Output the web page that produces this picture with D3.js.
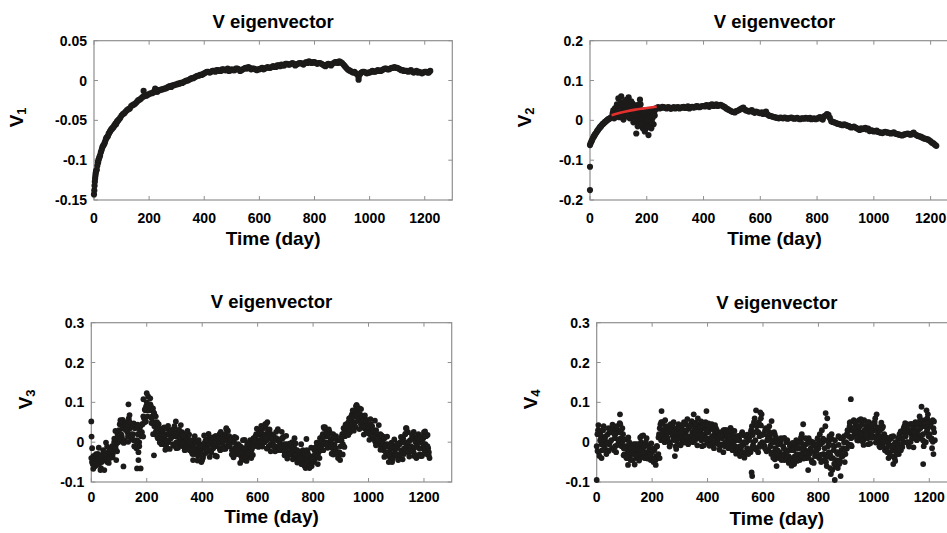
<!DOCTYPE html>
<html><head><meta charset="utf-8">
<script src="https://cdn.jsdelivr.net/npm/d3@7"></script>
<style>
body{margin:0;background:#fff}
svg{display:block}
text{font-family:"Liberation Sans",Arial,sans-serif;font-weight:bold;fill:#000}
</style>
</head><body>
<svg id="chart" width="947" height="533"></svg>
<script>
// ---------------- DATA ----------------
const titleText = "V eigenvector";
const xLabelText = "Time (day)";
const xTicks = [0, 200, 400, 600, 800, 1000, 1200];
const yTicks1 = [-0.15, -0.1, -0.05, 0, 0.05];
const yTickLabels1 = ["-0.15", "-0.1", "-0.05", "0", "0.05"];
const yTicks2 = [-0.2, -0.1, 0, 0.1, 0.2];
const yTickLabels2 = ["-0.2", "-0.1", "0", "0.1", "0.2"];
const yTicks34 = [-0.1, 0, 0.1, 0.2, 0.3];
const yTickLabels34 = ["-0.1", "0", "0.1", "0.2", "0.3"];

// sample days
const days10 = d3.range(0, 1221, 10);     // 0,10,...,1220
const days10b = d3.range(5, 1220, 10);    // 5,15,...,1215
const days10c = d3.range(3, 1220, 10);    // 3,13,...,1213
const days10d = d3.range(7, 1220, 10);    // 7,17,...,1217
const days5 = d3.range(0, 1221, 5);       // 0,5,...,1220
const days5b = d3.range(2.5, 1220, 5);    // 2.5,...,1217.5

// V1
const v1Vals = [
 -0.143,-0.112,-0.096,-0.084,-0.077,-0.070,-0.063,-0.059,-0.055,-0.049,
 -0.044,-0.041,-0.037,-0.035,-0.031,-0.029,-0.025,-0.023,-0.020,-0.019,
 -0.017,-0.016,-0.013,-0.014,-0.012,-0.011,-0.010,-0.008,-0.008,-0.006,
 -0.005,-0.004,-0.003,-0.001,0.000,0.002,0.003,0.005,0.006,0.007,
 0.009,0.011,0.010,0.012,0.011,0.013,0.012,0.014,0.013,0.012,
 0.014,0.013,0.015,0.012,0.014,0.016,0.017,0.014,0.015,0.013,
 0.014,0.016,0.015,0.017,0.016,0.018,0.017,0.019,0.020,0.019,
 0.021,0.020,0.022,0.019,0.021,0.022,0.020,0.023,0.024,0.022,
 0.023,0.021,0.022,0.020,0.018,0.021,0.019,0.022,0.023,0.024,
 0.022,0.018,0.014,0.012,0.010,0.009,0.004,0.010,0.011,0.009,
 0.010,0.012,0.011,0.013,0.012,0.014,0.015,0.014,0.016,0.017,
 0.016,0.014,0.013,0.012,0.011,0.013,0.010,0.012,0.011,0.009,
 0.011,0.010,0.012];
const v1ValsB = [
 -0.120,-0.103,-0.090,-0.081,-0.072,-0.066,-0.061,-0.056,-0.051,-0.047,
 -0.042,-0.039,-0.036,-0.032,-0.030,-0.027,-0.024,-0.021,-0.019,-0.018,
 -0.016,-0.015,-0.014,-0.012,-0.011,-0.010,-0.009,-0.007,-0.006,-0.005,
 -0.004,-0.003,-0.002,0.000,0.001,0.003,0.004,0.006,0.007,0.008,
 0.010,0.011,0.011,0.012,0.013,0.012,0.014,0.013,0.015,0.013,
 0.013,0.015,0.014,0.013,0.015,0.015,0.016,0.015,0.014,0.014,
 0.015,0.014,0.016,0.016,0.017,0.017,0.019,0.018,0.019,0.021,
 0.020,0.021,0.021,0.020,0.022,0.021,0.022,0.022,0.023,0.023,
 0.022,0.022,0.021,0.019,0.020,0.020,0.021,0.023,0.022,0.023,
 0.020,0.016,0.013,0.011,0.011,0.008,0.008,0.011,0.010,0.010,
 0.011,0.011,0.012,0.012,0.013,0.015,0.014,0.015,0.016,0.016,
 0.015,0.013,0.012,0.012,0.012,0.011,0.011,0.010,0.010,0.010,
 0.011,0.010];
const v1ExtraDays = [1,2,3,4,6,7,8,12,14,16,18,22,28,33,38,43,48,53,58,63,68,73,78,83,88,180,222,960];
const v1ExtraVals = [-0.138,-0.132,-0.127,-0.123,-0.117,-0.115,-0.113,-0.107,-0.103,-0.100,-0.098,-0.094,-0.087,-0.082,-0.079,-0.074,-0.071,-0.067,-0.064,-0.061,-0.059,-0.057,-0.054,-0.052,-0.050,-0.013,-0.010,0.001];

// V2
const v2Vals = [
 -0.062,-0.045,-0.033,-0.022,-0.013,-0.006,0.000,0.005,0.010,0.020,
 0.022,0.030,0.018,0.032,0.026,0.012,0.004,-0.006,0.008,-0.002,
 0.005,-0.010,0.015,0.028,0.033,0.031,0.033,0.030,0.032,0.031,
 0.030,0.033,0.031,0.034,0.032,0.030,0.034,0.033,0.035,0.034,
 0.036,0.038,0.034,0.040,0.037,0.036,0.039,0.035,0.030,0.026,
 0.022,0.020,0.024,0.028,0.032,0.025,0.022,0.026,0.019,0.021,
 0.018,0.016,0.022,0.012,0.010,0.008,0.006,0.007,0.005,0.006,
 0.005,0.007,0.004,0.006,0.003,0.005,0.006,0.004,0.003,0.005,
 0.004,0.008,0.002,0.012,0.014,-0.002,-0.005,-0.008,-0.010,-0.012,
 -0.011,-0.014,-0.018,-0.016,-0.020,-0.024,-0.022,-0.019,-0.021,-0.025,
 -0.028,-0.026,-0.030,-0.032,-0.029,-0.031,-0.033,-0.030,-0.034,-0.036,
 -0.038,-0.035,-0.033,-0.036,-0.031,-0.037,-0.040,-0.043,-0.046,-0.048,
 -0.053,-0.058,-0.064];
const v2ValsB = [
 -0.053,-0.039,-0.027,-0.017,-0.009,-0.003,0.003,0.008,0.015,0.018,
 0.028,0.020,0.035,0.024,0.015,0.030,0.002,0.012,-0.004,0.006,
 -0.003,0.008,0.020,0.031,0.030,0.034,0.031,0.033,0.029,0.033,
 0.032,0.030,0.033,0.031,0.035,0.033,0.032,0.036,0.033,0.036,
 0.035,0.037,0.039,0.036,0.040,0.038,0.037,0.033,0.028,0.024,
 0.021,0.023,0.026,0.030,0.027,0.024,0.024,0.021,0.022,0.019,
 0.020,0.019,0.015,0.011,0.009,0.007,0.005,0.006,0.007,0.004,
 0.006,0.005,0.005,0.004,0.005,0.004,0.005,0.006,0.004,0.003,
 0.006,0.004,0.010,0.016,0.006,-0.004,-0.006,-0.009,-0.011,-0.010,
 -0.013,-0.016,-0.017,-0.018,-0.022,-0.020,-0.021,-0.023,-0.027,-0.026,
 -0.027,-0.029,-0.031,-0.030,-0.030,-0.032,-0.032,-0.033,-0.035,-0.037,
 -0.036,-0.034,-0.035,-0.033,-0.035,-0.039,-0.041,-0.045,-0.047,-0.050,
 -0.056,-0.061];
const v2ExtraDays = [0,0,2,7,13,17,23,28,33,38,43,48,53,58,63,68];
const v2ExtraVals = [-0.1165,-0.175,-0.058,-0.050,-0.041,-0.036,-0.030,-0.025,-0.020,-0.016,-0.011,-0.008,-0.004,-0.001,0.002,0.004];
const v2CloudDays = [80,85,88,92,95,98,100,104,106,110,112,115,118,120,124,127,130,133,136,140,143,146,150,153,156,160,163,166,170,173,176,180,183,186,190,193,196,200,203,206,210,213,216,220,224,228];
const v2CloudVals = [0.018,0.005,0.030,0.012,0.040,0.022,0.055,0.008,0.035,0.060,0.020,0.045,0.002,0.030,0.040,0.015,0.052,0.025,0.058,0.005,0.035,0.020,0.042,-0.005,0.028,0.010,-0.033,0.038,0.000,0.020,0.052,-0.010,0.015,-0.020,0.005,-0.028,0.020,-0.012,0.010,-0.037,-0.005,0.015,-0.020,0.005,-0.010,0.012];
const v2Cloud2Days = [82,87,90,94,97,102,108,113,117,122,126,129,132,138,141,145,148,152,155,158,162,165,168,172,175,178,182,185,188,192,195,198,202,205,208,212,215,218,222,226,230,233];
const v2Cloud2Vals = [0.025,0.015,0.008,0.035,0.018,0.030,0.045,0.012,0.038,0.022,0.050,0.030,0.010,0.040,0.025,0.048,0.012,0.030,0.020,0.000,0.025,0.012,-0.015,0.030,0.008,0.040,0.002,0.025,-0.008,0.018,0.000,-0.020,0.022,0.003,-0.015,0.010,0.025,-0.005,0.015,0.020,0.028,0.030];
const v2FitDays = [76,100,130,160,190,220,235];
const v2FitVals = [0.013,0.018,0.023,0.027,0.030,0.033,0.035];

// V3
const v3Vals = [
 -0.040,-0.055,-0.035,-0.060,-0.045,-0.030,-0.050,-0.065,-0.040,-0.035,
 -0.045,-0.030,-0.040,-0.020,-0.035,-0.010,-0.020,0.005,-0.005,0.020,
 0.030,0.055,0.015,0.040,0.005,0.045,0.025,0.060,0.035,0.010,
 0.020,-0.010,0.040,0.005,-0.025,0.030,0.015,0.045,0.060,0.080,
 0.100,0.115,0.080,0.090,0.065,0.075,0.050,0.030,0.010,0.020,
 0.025,0.000,0.035,0.010,-0.010,0.020,0.005,0.030,0.015,-0.005,
 0.040,0.015,0.025,0.000,0.020,0.010,-0.010,0.015,0.005,-0.005,
 0.000,-0.020,-0.010,-0.030,0.005,-0.025,-0.015,-0.035,-0.005,-0.020,
 -0.045,-0.015,0.000,-0.025,-0.010,0.010,-0.020,0.005,-0.015,0.000,
 0.015,-0.010,0.005,-0.020,0.020,-0.005,0.010,-0.015,0.030,0.000,
 -0.010,0.010,-0.020,0.000,-0.015,-0.030,-0.005,-0.025,-0.035,-0.015,
 -0.030,-0.045,-0.020,-0.010,-0.025,0.000,-0.015,0.010,-0.005,0.020,
 0.005,0.025,-0.005,0.015,0.035,0.000,0.045,0.020,-0.010,0.010,
 0.020,-0.005,0.010,-0.015,0.005,-0.010,0.000,-0.020,0.010,-0.015,
 -0.005,-0.025,-0.010,-0.030,-0.015,0.000,-0.035,-0.020,-0.040,-0.025,
 -0.045,-0.030,-0.055,-0.035,-0.060,-0.040,-0.025,-0.055,-0.045,-0.060,
 -0.035,-0.020,-0.040,-0.005,-0.025,0.010,-0.010,0.020,0.035,0.000,
 0.015,-0.010,0.025,0.005,-0.015,0.010,-0.020,-0.030,-0.040,-0.025,
 -0.010,0.020,0.035,0.015,0.045,0.030,0.060,0.040,0.070,0.050,
 0.065,0.090,0.080,0.055,0.070,0.045,0.060,0.035,0.050,0.030,
 0.040,0.020,0.035,0.010,0.025,0.000,0.020,-0.005,0.015,-0.010,
 0.005,-0.020,-0.005,-0.030,-0.010,-0.025,-0.045,-0.015,-0.035,-0.020,
 -0.030,-0.010,-0.040,0.000,-0.020,0.010,-0.015,0.035,-0.005,-0.025,
 0.005,-0.020,0.015,-0.035,0.000,-0.010,0.020,-0.030,0.005,-0.015,
 0.025,-0.005,-0.030,-0.015,-0.040];
const v3ValsB = [
 -0.050,-0.035,-0.060,-0.045,-0.030,-0.055,-0.040,-0.050,-0.030,-0.045,
 -0.030,-0.050,-0.025,-0.040,-0.015,-0.030,0.000,-0.015,0.010,0.000,
 0.045,0.020,0.035,0.000,0.050,0.030,0.015,0.040,0.020,0.045,
 0.005,0.035,-0.015,0.020,0.000,0.040,0.025,0.065,0.050,0.090,
 0.080,0.095,0.110,0.060,0.085,0.040,0.065,0.015,0.035,0.005,
 0.010,0.030,-0.005,0.020,0.035,0.000,0.025,0.010,0.030,0.015,
 0.020,0.000,0.030,0.010,-0.005,0.025,0.000,0.020,-0.010,0.010,
 -0.010,0.005,-0.025,-0.005,-0.030,-0.015,0.000,-0.025,-0.010,-0.030,
 -0.005,-0.030,-0.015,0.005,-0.020,-0.005,-0.025,0.000,-0.010,0.015,
 -0.005,0.010,-0.015,0.000,0.015,-0.010,0.020,0.005,-0.010,0.015,
 0.000,-0.020,0.005,-0.025,-0.010,-0.015,-0.030,-0.010,-0.025,-0.040,
 -0.015,-0.030,-0.005,-0.035,-0.010,-0.020,0.005,-0.010,0.015,0.000,
 0.020,0.000,0.030,0.010,0.020,0.040,0.005,0.030,0.015,-0.005,
 0.005,0.015,-0.010,0.010,-0.020,0.005,-0.015,0.010,-0.005,-0.025,
 -0.015,-0.005,-0.030,-0.010,-0.025,-0.035,-0.015,-0.030,-0.020,-0.045,
 -0.035,-0.055,-0.040,-0.050,-0.030,-0.060,-0.045,-0.035,-0.060,-0.040,
 -0.050,-0.030,-0.015,-0.035,-0.010,-0.020,0.005,-0.005,0.015,0.025,
 -0.005,0.020,0.000,-0.010,0.020,-0.005,-0.015,0.005,-0.035,-0.045,
 0.005,-0.005,0.025,0.040,0.020,0.050,0.035,0.055,0.045,0.065,
 0.050,0.075,0.060,0.085,0.045,0.065,0.040,0.055,0.025,0.045,
 0.025,0.045,0.015,0.030,0.005,0.030,-0.005,0.010,0.020,0.000,
 -0.010,0.010,-0.025,-0.005,-0.035,-0.015,-0.030,-0.040,-0.010,-0.030,
 -0.015,-0.035,-0.005,-0.025,0.005,-0.030,0.020,-0.010,0.025,-0.015,
 -0.010,0.010,-0.025,0.005,-0.040,0.015,-0.015,0.000,-0.035,0.010,
 -0.020,0.015,-0.010,-0.025];
const v3ValsC = [
 -0.015,-0.055,-0.037,-0.070,-0.020,-0.001,-0.052,-0.023,0.009,-0.023,
 0.007,0.056,0.032,0.001,0.042,0.047,0.002,-0.010,0.045,0.082,
 0.065,0.095,0.020,0.026,0.045,-0.005,0.037,0.003,-0.017,0.031,
 0.019,-0.014,0.043,0.017,-0.018,0.019,-0.018,0.015,-0.046,-0.009,
 -0.039,0.006,0.021,-0.022,0.001,-0.036,0.021,0.002,-0.017,0.028,
 0.007,-0.038,0.011,-0.013,-0.044,0.006,-0.031,0.005,-0.032,0.010,
 -0.012,0.041,0.011,-0.016,0.032,0.015,-0.023,0.033,-0.012,0.013,
 0.016,-0.031,-0.011,0.010,-0.051,-0.041,-0.020,-0.065,-0.032,-0.014,
 -0.047,-0.001,-0.040,0.015,0.038,-0.014,0.007,-0.031,0.015,-0.028,
 0.013,-0.012,0.040,0.025,0.080,0.038,0.070,0.083,0.019,0.056,
 0.006,0.040,0.054,0.005,-0.019,0.014,-0.009,-0.050,-0.001,0.007,
 -0.003,-0.035,-0.043,0.021,0.001,-0.022,0.026,-0.033,0.006,0.015,
 -0.028,0.018];
const v3ValsD = [
 -0.067,-0.030,-0.014,-0.048,-0.070,-0.011,-0.021,-0.038,0.028,0.011,
 0.052,-0.002,0.043,0.052,0.015,-0.011,0.044,0.021,0.014,0.052,
 0.091,0.048,0.072,0.050,-0.001,0.018,-0.019,0.041,0.027,-0.009,
 -0.015,0.031,-0.001,-0.020,0.028,0.002,-0.045,0.001,0.005,-0.032,
 0.017,-0.017,-0.037,0.012,-0.034,0.010,0.026,-0.017,0.033,-0.009,
 -0.031,0.013,-0.016,-0.052,0.005,-0.038,-0.002,-0.040,0.005,0.034,
 0.024,-0.011,0.045,0.023,-0.023,-0.010,0.026,-0.010,0.026,-0.033,
 -0.041,-0.003,-0.043,-0.003,-0.023,-0.005,-0.057,-0.020,-0.065,-0.044,
 -0.014,-0.055,0.002,-0.020,-0.002,0.032,-0.029,0.013,-0.028,0.005,
 -0.031,0.044,0.018,0.064,0.029,0.093,0.033,0.052,0.067,0.023,
 0.058,0.013,-0.008,0.043,0.017,-0.037,0.014,-0.009,-0.042,-0.031,
 -0.045,0.013,0.000,-0.024,-0.036,0.017,-0.013,0.012,-0.035,-0.004,
 0.016,-0.033];
const v3ExtraDays = [0,1,90,116,134,138,165,178,170,200,188,226,305,397,487,560,635,776,838,957,1085,1137,1204];
const v3ExtraVals = [0.052,0.014,-0.045,-0.061,0.095,0.068,-0.066,-0.066,-0.045,0.123,0.108,-0.033,0.052,-0.050,0.035,-0.047,0.050,0.008,0.038,0.093,-0.050,0.035,0.027];

// V4
const v4Vals = [
 -0.010,0.030,-0.035,0.015,-0.020,0.040,0.005,-0.030,0.020,-0.005,
 0.025,-0.015,0.035,0.010,-0.025,0.030,0.000,0.045,-0.010,0.020,
 -0.030,-0.010,-0.040,-0.020,-0.035,-0.015,-0.045,-0.025,-0.005,-0.030,
 -0.015,-0.040,0.000,-0.025,-0.010,-0.035,0.010,-0.030,-0.020,-0.045,
 -0.025,-0.050,-0.015,-0.035,-0.040,0.020,0.045,0.010,0.030,0.000,
 0.035,0.010,0.025,-0.005,0.040,0.015,0.030,-0.010,0.020,0.045,
 0.010,0.035,0.000,0.050,0.020,0.030,-0.005,0.040,0.015,0.025,
 0.045,0.005,0.030,0.060,0.015,0.025,-0.010,0.040,0.020,0.035,
 0.000,0.030,0.010,0.045,-0.005,0.020,0.035,0.005,0.015,-0.010,
 0.025,-0.005,0.015,0.000,0.030,-0.015,0.010,0.020,-0.020,0.005,
 -0.010,0.015,-0.025,0.005,-0.015,0.025,-0.005,-0.030,0.000,-0.020,
 0.010,-0.025,0.040,0.000,0.060,-0.015,0.025,0.050,-0.005,0.070,
 0.020,-0.010,0.035,0.005,-0.020,0.015,-0.030,0.000,0.025,-0.015,
 -0.035,-0.005,-0.025,0.010,-0.040,-0.015,-0.030,0.000,-0.045,-0.020,
 -0.010,-0.050,-0.020,-0.035,0.005,-0.040,-0.015,-0.030,0.020,-0.025,
 -0.040,-0.005,-0.030,0.010,-0.020,-0.045,0.000,-0.025,-0.010,-0.035,
 -0.015,0.020,-0.050,0.000,-0.030,0.040,-0.060,-0.010,0.015,-0.040,
 -0.070,-0.020,0.005,-0.045,-0.030,-0.055,0.010,-0.035,-0.015,-0.050,
 0.000,0.030,0.015,0.050,-0.010,0.035,0.020,0.045,0.005,0.030,
 0.040,0.010,0.025,0.055,0.015,0.035,-0.005,0.030,0.020,0.045,
 0.030,0.060,0.010,0.025,-0.010,0.015,0.035,0.000,-0.020,0.010,
 -0.025,0.005,-0.035,-0.010,0.015,-0.040,-0.015,0.000,-0.030,0.010,
 0.025,0.000,0.040,0.015,0.030,-0.005,0.045,0.020,0.010,0.035,
 0.050,0.005,0.030,0.065,0.015,0.040,-0.010,0.055,0.025,0.070,
 0.020,0.045,-0.015,0.035,0.005];
const v4ValsB = [
 0.020,-0.025,0.005,-0.040,0.030,-0.010,0.015,-0.020,0.035,0.000,
 0.005,0.030,-0.020,0.020,0.040,-0.005,0.025,0.010,0.035,-0.015,
 -0.015,-0.040,-0.025,-0.005,-0.045,-0.020,-0.030,-0.010,-0.040,-0.020,
 -0.030,-0.005,-0.035,-0.015,-0.040,0.000,-0.025,-0.010,-0.035,-0.020,
 -0.040,-0.020,-0.045,-0.010,-0.030,0.035,0.005,0.050,0.020,0.040,
 0.015,0.040,0.000,0.030,0.020,0.050,0.005,0.035,0.010,0.025,
 0.040,0.015,0.030,0.005,0.045,0.015,0.035,0.010,0.050,0.000,
 0.020,0.040,0.010,0.030,0.045,0.005,0.035,0.015,0.050,0.010,
 0.025,0.005,0.040,0.015,0.000,0.030,0.010,0.025,-0.005,0.020,
 0.010,0.030,-0.010,0.020,0.005,0.015,-0.005,0.030,0.000,0.015,
 0.005,-0.020,0.010,-0.010,0.020,-0.025,0.000,0.015,-0.015,0.005,
 -0.020,0.030,-0.010,0.050,0.005,0.040,-0.025,0.015,0.060,0.000,
 -0.005,0.030,-0.020,0.015,0.040,-0.010,0.005,-0.025,0.020,0.000,
 -0.020,-0.040,0.000,-0.030,-0.010,-0.045,-0.020,0.005,-0.035,-0.010,
 -0.040,-0.020,-0.055,-0.005,-0.030,-0.015,-0.045,0.000,-0.035,-0.010,
 -0.020,-0.040,0.005,-0.030,-0.015,-0.050,-0.005,-0.035,-0.020,0.010,
 -0.040,-0.005,0.030,-0.030,-0.015,-0.050,0.005,-0.025,-0.065,0.020,
 -0.040,-0.010,-0.060,-0.025,0.015,-0.045,-0.020,-0.035,0.000,-0.030,
 0.020,-0.005,0.040,0.010,0.030,0.055,0.015,0.025,0.040,0.010,
 0.020,0.045,0.005,0.030,0.040,0.010,0.050,0.025,0.035,0.015,
 0.045,0.015,0.035,0.000,0.030,0.005,-0.010,0.020,0.010,-0.015,
 -0.005,-0.030,0.010,-0.020,-0.035,0.000,-0.025,-0.005,0.020,-0.020,
 0.010,0.035,0.020,0.045,0.000,0.025,0.030,0.010,0.040,0.020,
 0.030,0.045,0.010,0.035,0.055,0.020,0.040,0.000,0.060,0.015,
 0.040,0.010,0.055,0.025];
const v4ValsC = [
 -0.022,0.020,0.031,-0.001,-0.022,0.034,0.021,-0.008,0.048,0.001,
 0.007,-0.057,-0.015,-0.005,-0.032,-0.046,0.016,-0.009,-0.041,-0.033,
 -0.017,-0.057,0.012,0.050,0.009,0.025,-0.011,0.044,0.027,-0.004,
 -0.008,0.044,0.014,0.003,0.053,0.032,-0.008,0.038,0.043,0.006,
 0.047,0.010,-0.015,0.030,-0.019,0.021,0.031,-0.012,0.036,-0.009,
 -0.029,0.016,-0.009,-0.039,0.019,-0.018,0.018,-0.018,0.025,0.042,
 0.021,-0.023,0.025,0.000,-0.043,-0.030,0.004,-0.032,0.004,-0.052,
 -0.059,-0.013,-0.047,-0.001,-0.013,0.010,-0.039,0.002,-0.052,-0.022,
 0.001,-0.045,0.004,-0.035,-0.032,-0.008,-0.062,-0.007,-0.033,0.015,
 -0.016,0.049,0.013,0.052,0.004,0.058,-0.007,0.019,0.045,0.011,
 0.051,0.010,-0.013,0.039,0.012,-0.040,0.014,-0.006,-0.030,-0.011,
 -0.012,0.048,0.032,0.001,-0.013,0.047,0.017,0.050,0.000,0.032,
 0.051,0.001];
const v4ValsD = [
 0.030,-0.005,0.008,-0.023,0.028,0.044,-0.010,0.007,0.029,-0.033,
 -0.038,0.001,-0.026,-0.056,-0.005,0.012,-0.026,-0.040,-0.010,-0.003,
 -0.043,-0.010,-0.040,0.026,0.055,0.002,0.045,0.006,-0.017,0.036,
 0.026,-0.001,0.058,0.040,0.007,0.049,0.019,0.052,-0.008,0.029,
 -0.009,0.033,0.043,-0.004,0.016,-0.025,0.026,0.007,-0.014,0.028,
 0.009,-0.035,0.018,0.000,-0.030,0.026,-0.011,0.027,-0.012,0.018,
 -0.015,0.029,-0.009,-0.039,0.012,-0.005,-0.045,0.011,-0.034,-0.006,
 -0.002,-0.041,-0.015,0.012,-0.041,-0.026,-0.002,-0.050,-0.005,0.008,
 -0.032,0.009,-0.038,0.000,0.008,-0.054,-0.026,-0.051,0.010,-0.018,
 0.028,-0.007,0.035,0.013,0.055,0.003,0.030,0.050,-0.003,0.044,
 -0.001,0.037,0.049,0.001,-0.024,0.011,-0.009,-0.047,0.011,0.027,
 0.030,0.000,-0.011,0.046,0.024,0.008,0.056,0.005,0.041,0.051,
 0.007,0.052];
const v4ExtraDays = [0,6,84,114,168,234,282,396,350,559,561,575,590,631,649,745,763,826,832,859,845,880,870,917,1010,1070,1172,1178,1190,1215];
const v4ExtraVals = [-0.095,0.043,0.070,0.012,0.017,0.078,-0.035,0.078,0.070,-0.076,-0.085,0.080,0.075,0.053,-0.060,0.045,-0.070,0.073,0.060,-0.095,-0.080,-0.085,-0.065,0.108,0.070,-0.055,0.089,-0.055,0.080,-0.030];

// ---------------- LAYOUT ----------------
const panels = [
  {left:94, right:452.3, top:40.7, bottom:200, yDom:[-0.15,0.05], yT:yTicks1, yL:yTickLabels1, sub:"1",
   ylx:22.5, titleY:28.3, xlY:245, tickY:222.5, r:3.1,
   series:[[days10,v1Vals],[days10b,v1ValsB],[v1ExtraDays,v1ExtraVals]]},
  {left:590, right:959, top:40.7, bottom:200, yDom:[-0.2,0.2], yT:yTicks2, yL:yTickLabels2, sub:"2",
   ylx:531, titleY:28.3, xlY:244.5, tickY:222.5, r:3.1,
   series:[[days10,v2Vals],[days10b,v2ValsB],[v2ExtraDays,v2ExtraVals],[v2CloudDays,v2CloudVals],[v2Cloud2Days,v2Cloud2Vals]],
   fit:[v2FitDays,v2FitVals]},
  {left:91.3, right:451.7, top:322.7, bottom:482, yDom:[-0.1,0.3], yT:yTicks34, yL:yTickLabels34, sub:"3",
   ylx:31.5, titleY:308.3, xlY:522.7, tickY:501.7, r:2.9,
   series:[[days5,v3Vals],[days5b,v3ValsB],[days10c,v3ValsC],[days10d,v3ValsD],[v3ExtraDays,v3ExtraVals]]},
  {left:596.7, right:957, top:322.7, bottom:482, yDom:[-0.1,0.3], yT:yTicks34, yL:yTickLabels34, sub:"4",
   ylx:536.7, titleY:309, xlY:525, tickY:501.7, r:2.9,
   series:[[days5,v4Vals],[days5b,v4ValsB],[days10c,v4ValsC],[days10d,v4ValsD],[v4ExtraDays,v4ExtraVals]]}
];

const svg = d3.select("#chart");
const boxColor = "#8f8f8f";
const dotColor = "#1d1a1a";

panels.forEach(p => {
  const x = d3.scaleLinear().domain([0, 1300]).range([p.left, p.right]);
  const y = d3.scaleLinear().domain(p.yDom).range([p.bottom, p.top]);
  const g = svg.append("g");
  const tl = 4;
  g.append("rect").attr("x", p.left).attr("y", p.top)
    .attr("width", p.right - p.left).attr("height", p.bottom - p.top)
    .attr("fill", "none").attr("stroke", boxColor).attr("stroke-width", 1.2);
  xTicks.forEach(t => {
    const xx = x(t);
    g.append("line").attr("x1", xx).attr("x2", xx).attr("y1", p.bottom).attr("y2", p.bottom - tl)
      .attr("stroke", boxColor).attr("stroke-width", 1);
    g.append("line").attr("x1", xx).attr("x2", xx).attr("y1", p.top).attr("y2", p.top + tl)
      .attr("stroke", boxColor).attr("stroke-width", 1);
    g.append("text").attr("x", xx).attr("y", p.tickY).attr("text-anchor", "middle")
      .style("font-size", "14px").text(String(t));
  });
  p.yT.forEach((t, i) => {
    const yy = y(t);
    g.append("line").attr("x1", p.left).attr("x2", p.left + tl).attr("y1", yy).attr("y2", yy)
      .attr("stroke", boxColor).attr("stroke-width", 1);
    g.append("line").attr("x1", p.right).attr("x2", p.right - tl).attr("y1", yy).attr("y2", yy)
      .attr("stroke", boxColor).attr("stroke-width", 1);
    g.append("text").attr("x", p.left - 7).attr("y", yy).attr("dy", "0.36em")
      .attr("text-anchor", "end").style("font-size", "14px").text(p.yL[i]);
  });
  g.append("text").attr("x", (p.left + p.right) / 2).attr("y", p.titleY)
    .attr("text-anchor", "middle").style("font-size", "18.5px").text(titleText);
  g.append("text").attr("x", (p.left + p.right) / 2).attr("y", p.xlY)
    .attr("text-anchor", "middle").style("font-size", "19px").text(xLabelText);
  const cy = (p.top + p.bottom) / 2 - 3;
  const yl = g.append("text").attr("transform", `translate(${p.ylx},${cy}) rotate(-90)`)
    .attr("text-anchor", "middle").style("font-size", "19px");
  yl.append("tspan").text("V");
  yl.append("tspan").attr("dy", "3").style("font-size", "13px").text(p.sub);
  p.series.forEach(([ds, vs]) => {
    g.append("g").selectAll("circle").data(vs).join("circle")
      .attr("cx", (v, i) => x(ds[i])).attr("cy", v => y(v)).attr("r", p.r)
      .attr("fill", dotColor);
  });
  if (p.fit) {
    const [fd, fv] = p.fit;
    const line = d3.line().x((v, i) => x(fd[i])).y(v => y(v)).curve(d3.curveMonotoneX);
    g.append("path").attr("d", line(fv)).attr("fill", "none")
      .attr("stroke", "#e3302c").attr("stroke-width", 2.6);
  }
});
</script>
</body></html>
